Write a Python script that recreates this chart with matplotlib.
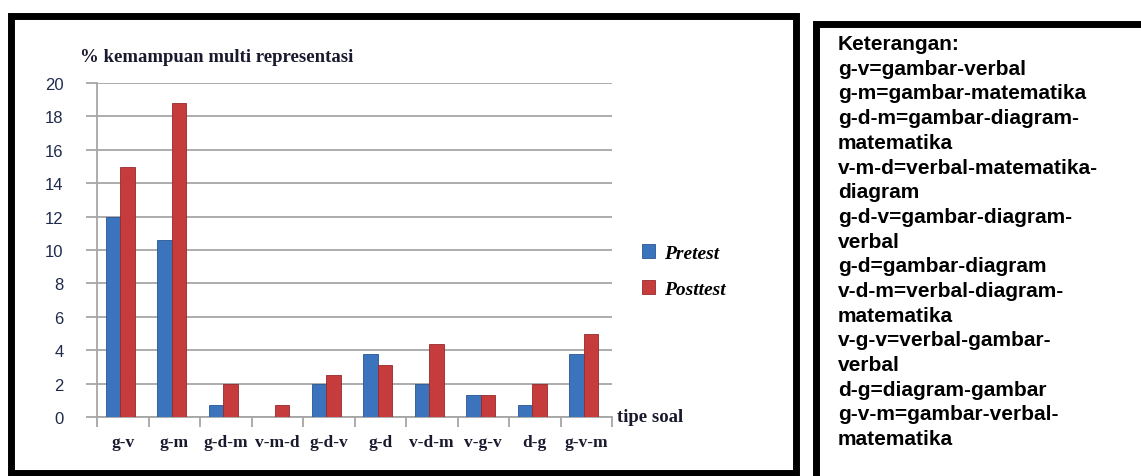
import matplotlib.pyplot as plt
import numpy as np
from matplotlib.patches import Rectangle

# data
kategori = ["g-v", "g-m", "g-d-m", "v-m-d", "g-d-v", "g-d", "v-d-m", "v-g-v", "d-g", "g-v-m"]
pretest = [12.0, 10.6, 0.7, 0.0, 2.0, 3.75, 2.0, 1.3, 0.7, 3.75]
posttest = [15.0, 18.8, 2.0, 0.7, 2.5, 3.1, 4.4, 1.3, 2.0, 5.0]

keterangan = [
    "Keterangan:",
    "g-v=gambar-verbal",
    "g-m=gambar-matematika",
    "g-d-m=gambar-diagram-",
    "matematika",
    "v-m-d=verbal-matematika-",
    "diagram",
    "g-d-v=gambar-diagram-",
    "verbal",
    "g-d=gambar-diagram",
    "v-d-m=verbal-diagram-",
    "matematika",
    "v-g-v=verbal-gambar-",
    "verbal",
    "d-g=diagram-gambar",
    "g-v-m=gambar-verbal-",
    "matematika",
]

W, H = 1141, 477
fig = plt.figure(figsize=(W / 100, H / 100), dpi=100)

def px(x0, y0, x1, y1):
    # pixel box -> figure fraction rect
    return (x0 / W, 1 - y1 / H, (x1 - x0) / W, (y1 - y0) / H)

# frames
r = px(11, 17, 796, 474)
fig.patches.append(Rectangle(r[:2], r[2], r[3], transform=fig.transFigure,
                             fill=False, lw=5, ec="black"))
r = px(816, 25, 1160, 500)
fig.patches.append(Rectangle(r[:2], r[2], r[3], transform=fig.transFigure,
                             fill=False, lw=5, ec="black"))

ax = fig.add_axes(px(97, 84, 612, 418))
x = np.arange(len(kategori))
w = 0.28
ax.bar(x - w / 2 - 0.05, pretest, w, color="#3c73bd", edgecolor="#2a5592", lw=0.6,
       label="Pretest", zorder=3)
ax.bar(x + w / 2 - 0.05, posttest, w, color="#c63b3b", edgecolor="#962a2a", lw=0.6,
       label="Posttest", zorder=3)

ax.set_xlim(-0.5, len(kategori) - 0.5)
ax.set_ylim(0, 20)
ax.set_yticks(range(0, 21, 2))
ax.yaxis.grid(True, color="#a6a6a6", lw=1.3, zorder=0)
ax.set_axisbelow(True)

for s in ["top", "right"]:
    ax.spines[s].set_visible(False)
for s in ["left", "bottom"]:
    ax.spines[s].set_color("#a6a6a6")
    ax.spines[s].set_linewidth(1.3)

ax.set_xticks(x)
ax.set_xticklabels(kategori, family="Liberation Serif", weight="bold", fontsize=12.5,
                   color="#1a1a2e")
ax.tick_params(axis="x", length=0, pad=12)
ax.set_xticks(np.arange(-0.5, len(kategori)), minor=True)
ax.tick_params(axis="x", which="minor", length=7, color="#a6a6a6", width=1.3)
ax.tick_params(axis="y", length=8, color="#a6a6a6", width=1.3, pad=16)
for t in ax.get_yticklabels():
    t.set_family("Liberation Sans")
    t.set_fontsize(12)
    t.set_color("#1f2a4d")

fig.text(80 / W, 1 - 57 / H, "% kemampuan multi representasi", family="Liberation Serif",
         weight="bold", fontsize=13.5, va="center", ha="left", color="#1a1a2e")
fig.text(617 / W, 1 - 418 / H, "tipe soal", family="Liberation Serif",
         weight="bold", fontsize=13.5, va="center", ha="left", color="#1a1a2e")

leg = fig.legend(loc="center left", bbox_to_anchor=(624 / W, 1 - 272 / H), frameon=False,
                 prop={"family": "Liberation Serif", "style": "italic", "weight": "bold", "size": 14},
                 handlelength=0.7, handleheight=0.7, labelspacing=0.95, handletextpad=0.45)

fig.text(838 / W, 1 - 35 / H, "\n".join(keterangan), family="Liberation Sans", weight="bold",
         fontsize=15, va="top", ha="left", linespacing=1.38)

fig.savefig("out.png", dpi=100)
